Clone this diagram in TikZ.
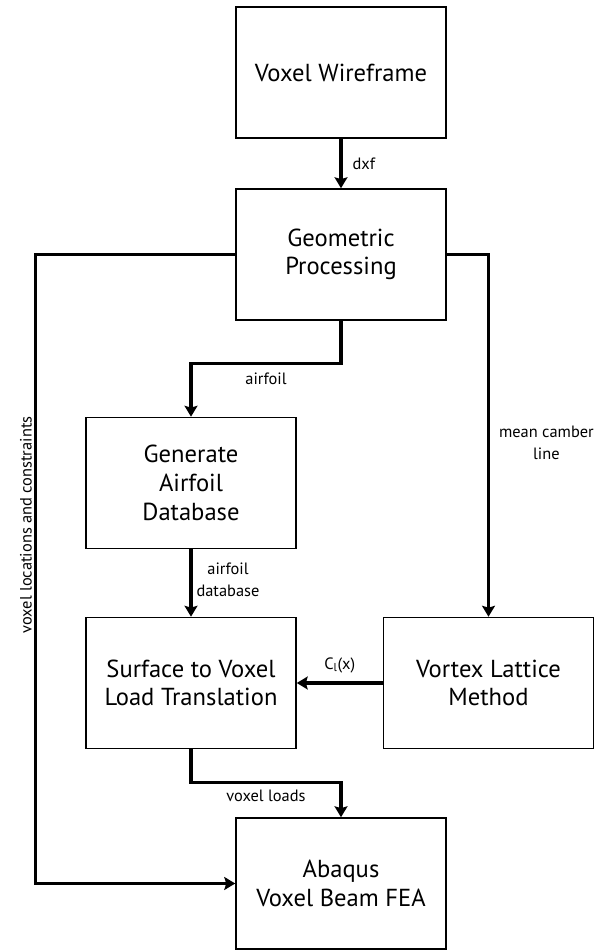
\documentclass[tikz,border=0pt]{standalone}
\usepackage{fontspec}
\setmainfont{PT Sans}
\usepackage{tikz}
\usetikzlibrary{arrows.meta,positioning}

\begin{document}
\begin{tikzpicture}[x=.3mm,y=.3mm,
 >={Stealth[length=3.3mm,width=3.9mm,inset=.6mm]},
 box/.style={draw,line width=1.3pt,minimum width=63mm,minimum height=39.3mm,
  inner sep=0pt,align=center,font=\fontsize{21}{24.5}\selectfont},
 flow/.style={->,line width=2.6pt},
 lbl/.style={inner sep=0pt,align=center,font=\fontsize{14}{18.5}\selectfont}]
 \useasboundingbox (0,0) rectangle (600,950);

 % the six stages
 \node[box] (wire) at (341,877.5) {Voxel Wireframe};
 \node[box] (geom) at (341,695.5) {Geometric\\Processing};
 \node[box] (gen)  at (191,467)   {Generate\\Airfoil\\Database};
 \node[box] (surf) at (191,267)   {Surface to Voxel\\Load Translation};
 \node[box] (vlm)  at (488.5,267) {Vortex Lattice\\Method};
 \node[box] (fea)  at (341,66.5)  {Abaqus\\Voxel Beam FEA};

 % geometry goes down the middle
 \draw[flow] (wire.south) -- node[lbl,midway,right=3mm] {dxf} (geom.north);
 \draw[flow] (geom.south) -- ++(0,-43)
  -| node[lbl,pos=.25,below=2.2mm] {airfoil} (gen.north);
 \draw[flow] (gen.south) --
  node[lbl,midway,right=1.2mm,yshift=1mm] {airfoil\\database} (surf.north);

 % aerodynamics on the right
 \draw[flow] (geom.east)
  -| node[lbl,pos=.76,right=2.7mm] {mean camber\\line} (vlm.north);
 \draw[flow] (vlm.west) --
  node[lbl,midway,above=2.6mm] {C\textsubscript{l}(x)} (surf.east);

 % loads and constraints into the solver
 \draw[flow] (surf.south) -- ++(0,-33)
  -| node[lbl,pos=.25,below=1.8mm] {voxel loads} (fea.north);
 \draw[flow] (geom.west) -- ++(-200,0)
  |- node[lbl,pos=.215,rotate=90,anchor=south,yshift=.6mm]
  {voxel locations and constraints} (fea.west);
\end{tikzpicture}
\end{document}
